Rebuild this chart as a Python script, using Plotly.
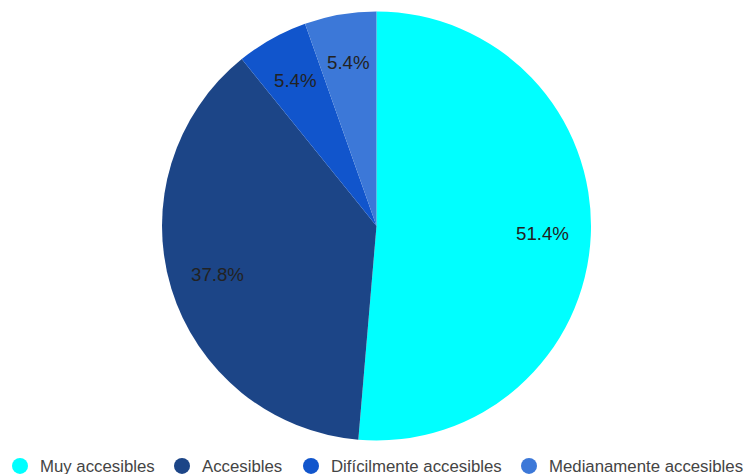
import math
import plotly.graph_objects as go

labels = ["Muy accesibles", "Accesibles", "Difícilmente accesibles", "Medianamente accesibles"]
values = [19, 14, 2, 2]
colors = ["#00ffff", "#1c4587", "#1155cc", "#3c78d8"]

W, H = 744, 474
cx, cy, R = 376.5, 226.0, 214.5  # pie geometry in pixels
label_frac = 0.775
legend_x_px = [0, 162, 291, 509]  # left edge of each legend entry
legend_y_px = 466

fig = go.Figure()
fig.add_trace(go.Pie(
    labels=labels, values=values, sort=False, direction="clockwise", rotation=0,
    marker=dict(colors=colors, line=dict(width=0)),
    textinfo="none", showlegend=False, hoverinfo="label+percent",
    domain=dict(x=[(cx - R) / W, (cx + R) / W], y=[1 - (cy + R) / H, 1 - (cy - R) / H]),
))

legend_layouts = {}
for i, (lab, col) in enumerate(zip(labels, colors)):
    key = "legend" if i == 0 else f"legend{i + 1}"
    fig.add_trace(go.Scatter(x=[None], y=[None], mode="markers", name=lab, legend=key,
                             marker=dict(symbol="circle", size=17, color=col)))
    legend_layouts[key] = dict(
        orientation="h", x=legend_x_px[i] / W, xanchor="left",
        y=1 - legend_y_px / H, yanchor="middle", bgcolor="rgba(0,0,0,0)",
        font=dict(family="Liberation Sans, Arial", size=16.8, color="#444444"),
        itemsizing="trace",
    )

total = sum(values)
cum = 0
annotations = []
for v in values:
    mid = (cum + v / 2) / total * 2 * math.pi
    cum += v
    px = cx + label_frac * R * math.sin(mid)
    py = cy - label_frac * R * math.cos(mid)
    annotations.append(dict(
        x=px / W, y=1 - py / H, xref="paper", yref="paper", showarrow=False,
        text=f"{v / total * 100:.1f}%", xanchor="center", yanchor="middle",
        font=dict(family="Liberation Sans, Arial", size=18.7, color="#222222"),
    ))

fig.update_layout(
    width=W, height=H, margin=dict(l=0, r=0, t=0, b=0, autoexpand=False),
    paper_bgcolor="white", plot_bgcolor="white",
    xaxis=dict(visible=False), yaxis=dict(visible=False),
    font=dict(family="Liberation Sans, Arial", size=16.8, color="#444444"),
    annotations=annotations,
    **legend_layouts,
)
fig.write_html("out.html", config={"displayModeBar": False},
               post_script="document.body.style.margin='0';")
